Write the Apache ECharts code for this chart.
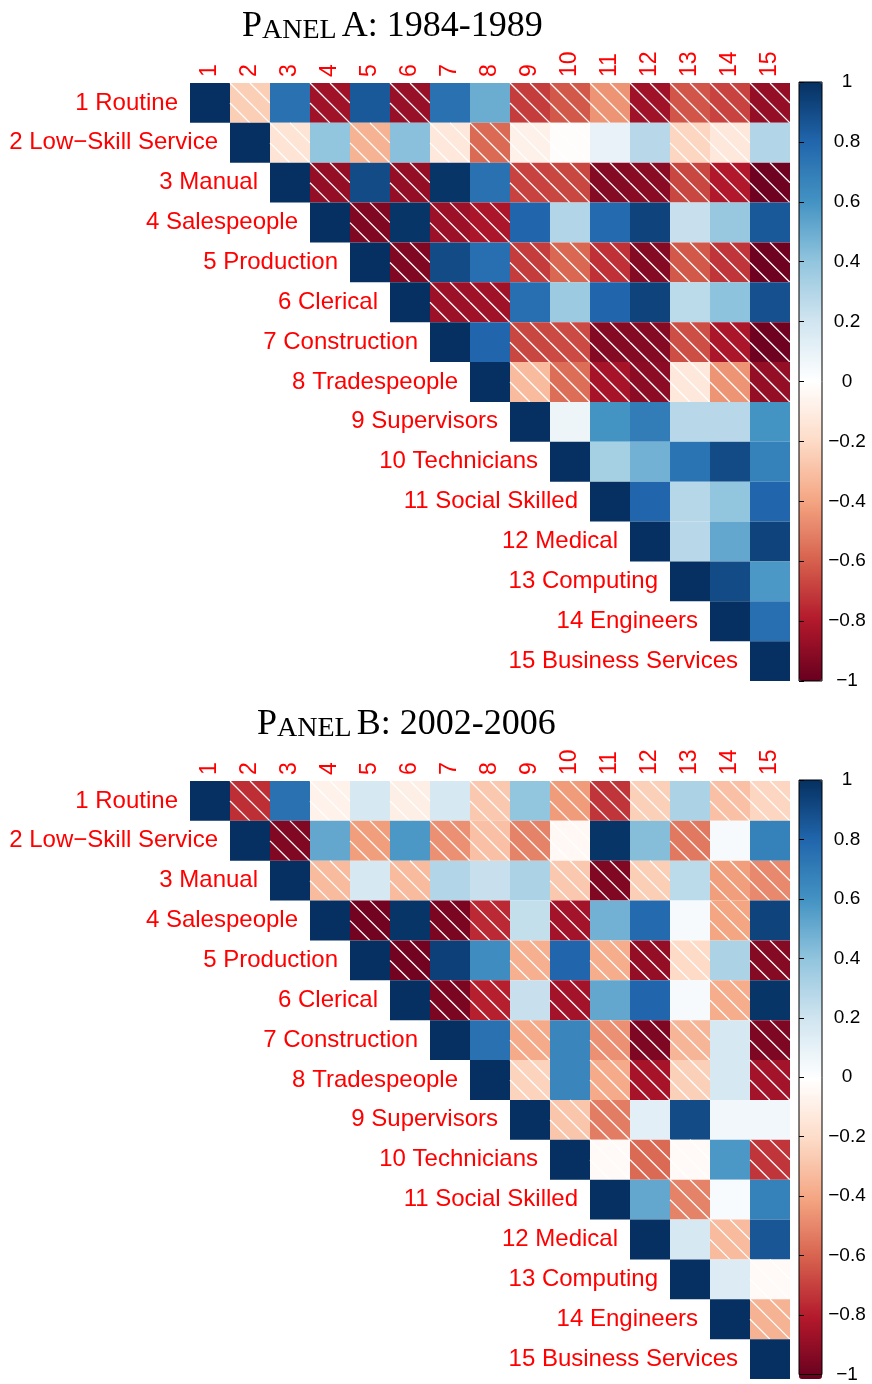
<!DOCTYPE html>
<html>
<head>
<meta charset="utf-8">
<script src="https://cdn.jsdelivr.net/npm/echarts@6/dist/echarts.min.js"></script>
<style>
  html, body { margin: 0; background: #fff; }
  #chart { width: 872px; height: 1384px; }
</style>
</head>
<body>
<div id="chart"></div>
<script>
// occupation groups, row labels
const occupations = [
  '1 Routine', '2 Low\u2212Skill Service', '3 Manual', '4 Salespeople', '5 Production',
  '6 Clerical', '7 Construction', '8 Tradespeople', '9 Supervisors', '10 Technicians',
  '11 Social Skilled', '12 Medical', '13 Computing', '14 Engineers', '15 Business Services'
]
const colLabels = ['1', '2', '3', '4', '5', '6', '7', '8', '9', '10', '11', '12', '13', '14', '15']

// correlations above the diagonal, row i holds columns i+1 .. 15
const panelA = [
  [-0.25, 0.75, -0.85, 0.85, -0.87, 0.75, 0.5, -0.7, -0.62, -0.45, -0.85, -0.63, -0.68, -0.88],
  [-0.15, 0.4, -0.35, 0.42, -0.13, -0.57, -0.08, -0.01, 0.1, 0.28, -0.22, -0.13, 0.3],
  [-0.88, 0.9, -0.88, 0.98, 0.75, -0.68, -0.67, -0.92, -0.91, -0.67, -0.8, -0.98],
  [-0.93, 0.98, -0.86, -0.82, 0.8, 0.3, 0.78, 0.93, 0.23, 0.38, 0.85],
  [-0.93, 0.9, 0.76, -0.7, -0.58, -0.73, -0.92, -0.62, -0.72, -0.98],
  [-0.86, -0.85, 0.76, 0.37, 0.8, 0.93, 0.27, 0.41, 0.88],
  [0.8, -0.67, -0.66, -0.92, -0.92, -0.65, -0.82, -0.98],
  [-0.32, -0.56, -0.83, -0.9, -0.13, -0.45, -0.88],
  [0.08, 0.6, 0.7, 0.28, 0.28, 0.6],
  [0.34, 0.48, 0.74, 0.9, 0.68],
  [0.8, 0.29, 0.4, 0.8],
  [0.28, 0.52, 0.93],
  [0.9, 0.58],
  [0.76],
  []
]

const panelB = [
  [-0.74, 0.75, -0.07, 0.18, -0.09, 0.18, -0.27, 0.4, -0.43, -0.72, -0.24, 0.32, -0.3, -0.22],
  [-0.93, 0.52, -0.42, 0.58, -0.46, -0.3, -0.5, -0.04, 0.98, 0.43, -0.53, 0.04, 0.68],
  [-0.32, 0.18, -0.32, 0.3, 0.23, 0.32, -0.27, -0.93, -0.25, 0.27, -0.42, -0.48],
  [-0.97, 0.98, -0.95, -0.75, 0.24, -0.84, 0.48, 0.78, 0.04, -0.4, 0.93],
  [-0.97, 0.94, 0.63, -0.36, 0.8, -0.37, -0.88, -0.2, 0.32, -0.92],
  [-0.95, -0.78, 0.23, -0.84, 0.52, 0.8, 0.04, -0.37, 0.98],
  [0.75, -0.38, 0.66, -0.46, -0.94, -0.34, 0.18, -0.94],
  [-0.23, 0.66, -0.38, -0.83, -0.24, 0.18, -0.84],
  [-0.28, -0.52, 0.12, 0.9, 0.06, 0.06],
  [-0.03, -0.57, -0.03, 0.58, -0.72],
  [0.52, -0.5, 0.03, 0.68],
  [0.18, -0.32, 0.86],
  [0.15, -0.03],
  [-0.35],
  []
]

const rdbu = ['#67001F', '#B2182B', '#D6604D', '#F4A582', '#FDDBC7', '#FFFFFF',
  '#D1E5F0', '#92C5DE', '#4393C3', '#2166AC', '#053061']

const chart = echarts.init(document.getElementById('chart'))

const toCells = (rows) => {
  const cells = []
  rows.forEach((row, i) => {
    cells.push([i, i, 1])
    row.forEach((v, k) => cells.push([i + k + 1, i, v]))
  })
  return cells
}

const HATCH = 20

const renderCell = (params, api) => {
  const col = api.value(0)
  const row = api.value(1)
  const v = api.value(2)
  const c = api.coord([col, row])
  const size = api.size([1, 1])
  const w = size[0]
  const h = size[1]
  const x0 = c[0] - w / 2
  const y0 = c[1] - h / 2
  const children = [{
    type: 'rect',
    shape: { x: x0, y: y0, width: w, height: h },
    style: { fill: api.visual('color') }
  }]
  // white diagonal hatch on negative cells
  if (v < 0) {
    for (let off = -w; off < h; off += HATCH) {
      const u1 = Math.max(0, -off)
      const u2 = Math.min(w, h - off)
      if (u2 - u1 > 0.5) {
        children.push({
          type: 'line',
          shape: { x1: x0 + u1, y1: y0 + u1 + off, x2: x0 + u2, y2: y0 + u2 + off },
          style: { stroke: '#fff', lineWidth: 1.3 }
        })
      }
    }
  }
  if (col === row) {
    children.push({
      type: 'text',
      style: {
        text: occupations[row],
        x: x0 - 12,
        y: c[1],
        align: 'right',
        verticalAlign: 'middle',
        fill: '#ff0000',
        fontSize: 24,
        fontFamily: 'Liberation Sans'
      }
    })
  }
  return { type: 'group', children }
}

const panelTops = [83, 781]
const titleRich = {
  big: { fontSize: 36, fontFamily: 'Liberation Serif', fontWeight: 'normal', color: '#000', verticalAlign: 'bottom', lineHeight: 38 },
  small: { fontSize: 28, fontFamily: 'Liberation Serif', fontWeight: 'normal', color: '#000', verticalAlign: 'bottom', lineHeight: 38 }
}

const matrixGrid = (top) => ({ left: 190, top: top, width: 600, height: 598 })
const barGrid = (top) => ({
  left: 799, top: top - 1, width: 23, height: 599, z: 10,
  show: true, borderColor: '#000', borderWidth: 1, backgroundColor: 'rgba(0,0,0,0)'
})

const matrixX = (gridIndex) => ({
  type: 'category',
  gridIndex,
  position: 'top',
  data: colLabels,
  axisLine: { show: false },
  axisTick: { show: false },
  splitLine: { show: false },
  axisLabel: {
    rotate: -90,
    margin: 6,
    color: '#ff0000',
    fontSize: 23,
    fontFamily: 'Liberation Sans',
    interval: 0
  }
})
const matrixY = (gridIndex) => ({
  type: 'category',
  gridIndex,
  inverse: true,
  data: occupations,
  show: false
})
const barX = (gridIndex) => ({ type: 'value', gridIndex, show: false })
const barY = (gridIndex) => ({
  type: 'value',
  gridIndex,
  position: 'right',
  min: -1,
  max: 1,
  interval: 0.2,
  z: 10,
  splitLine: { show: false },
  axisLine: { show: false },
  axisTick: { show: true, length: 5, lineStyle: { color: '#000', width: 1 } },
  axisLabel: {
    margin: 25,
    align: 'center',
    color: '#000',
    fontSize: 19,
    fontFamily: 'Liberation Sans',
    formatter: (val) => String(Math.round(val * 10) / 10).replace('-', '\u2212')
  }
})

const option = {
  animation: false,
  backgroundColor: '#fff',
  title: [
    { text: '{big|P}{small|ANEL} {big|A: 1984-1989}', left: 242, top: 7, padding: 0, textStyle: { rich: titleRich } },
    { text: '{big|P}{small|ANEL} {big|B: 2002-2006}', left: 257, top: 705, padding: 0, textStyle: { rich: titleRich } }
  ],
  grid: [matrixGrid(panelTops[0]), barGrid(panelTops[0]), matrixGrid(panelTops[1]), barGrid(panelTops[1])],
  xAxis: [matrixX(0), barX(1), matrixX(2), barX(3)],
  yAxis: [matrixY(0), barY(1), matrixY(2), barY(3)],
  visualMap: panelTops.map((top, i) => ({
    type: 'continuous',
    seriesIndex: i,
    dimension: 2,
    min: -1,
    max: 1,
    left: 799,
    top: top - 1,
    itemWidth: 23,
    itemHeight: 599,
    padding: 0,
    calculable: false,
    hoverLink: false,
    inRange: { color: rdbu }
  })),
  series: [
    { type: 'custom', xAxisIndex: 0, yAxisIndex: 0, silent: true, renderItem: renderCell, data: toCells(panelA) },
    { type: 'custom', xAxisIndex: 2, yAxisIndex: 2, silent: true, renderItem: renderCell, data: toCells(panelB) }
  ]
}

chart.setOption(option)
window.addEventListener('resize', () => chart.resize())
</script>
</body>
</html>
